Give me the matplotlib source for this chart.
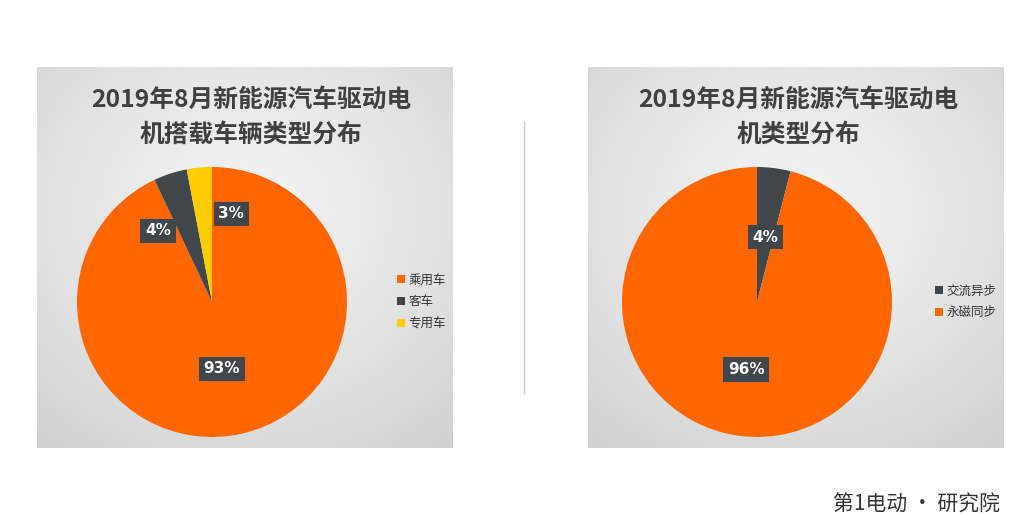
import numpy as np
import matplotlib
matplotlib.use('Agg')
import matplotlib.pyplot as plt

plt.rcParams['font.family'] = ['Noto Sans CJK SC', 'DejaVu Sans']

# data
left_title = '2019年8月新能源汽车驱动电\n机搭载车辆类型分布'
left_labels = ['乘用车', '客车', '专用车']
left_values = [93, 4, 3]

right_title = '2019年8月新能源汽车驱动电\n机类型分布'
right_labels = ['交流异步', '永磁同步']
right_values = [4, 96]

ORANGE = '#FF6600'
DARK = '#3F474D'
YELLOW = '#FFCC00'

W, H = 1024, 516


def fx(x):
    return x / W


def fy(y):
    return 1 - y / H


def panel(fig, x0, y0, x1, y1):
    ax = fig.add_axes([fx(x0), fy(y1), fx(x1 - x0), (y1 - y0) / H])
    yy, xx = np.mgrid[0:1:200j, 0:1:200j]
    # light centre slightly above middle, darker towards the edges
    r = np.sqrt((xx - 0.5) ** 2 + (yy - 0.62) ** 2) / 0.8
    g = 0.955 - 0.14 * np.clip(r, 0, 1) ** 1.3
    img = np.dstack([g, g, g])
    ax.imshow(img, extent=[0, 1, 0, 1], origin='lower', aspect='auto',
              interpolation='bicubic')
    ax.set_xlim(0, 1)
    ax.set_ylim(0, 1)
    ax.axis('off')
    return ax


def draw_pie(fig, cx, cy, rad, values, colors, label_pos):
    ax = fig.add_axes([fx(cx - rad), fy(cy + rad), fx(2 * rad), 2 * rad / H])
    wedges, _ = ax.pie(values, colors=colors, startangle=90, counterclock=False,
                       radius=1, wedgeprops=dict(linewidth=0))
    for v, (px, py) in zip(values, label_pos):
        ax.text(px, py, '%d%%' % v, ha='center', va='center', color='white',
                fontsize=11, fontweight='bold', family=['DejaVu Sans'],
                bbox=dict(boxstyle='square,pad=0.3', fc=DARK, ec='none'))
    ax.set_xlim(-1, 1)
    ax.set_ylim(-1, 1)
    ax.axis('off')
    return wedges


fig = plt.figure(figsize=(10.24, 5.16), dpi=100)
fig.patch.set_facecolor('white')

# left panel
pl = panel(fig, 37, 67, 453, 448)
fig.text(fx(251), fy(117), left_title, ha='center', va='center', fontsize=17.8,
         fontweight='bold', color='#404040', linespacing=1.55)
w1 = draw_pie(fig, 212, 302, 135, left_values, [ORANGE, DARK, YELLOW],
              [(0.074, -0.496), (-0.40, 0.526), (0.141, 0.652)])
fig.legend(w1, left_labels, loc='center left', bbox_to_anchor=(fx(386), fy(302)),
           frameon=False, fontsize=9, handlelength=0.6, handleheight=0.6,
           handletextpad=0.3, labelspacing=0.7, labelcolor='#333333')

# right panel
pr = panel(fig, 588, 67, 1004, 448)
fig.text(fx(798), fy(117), right_title, ha='center', va='center', fontsize=17.8,
         fontweight='bold', color='#404040', linespacing=1.55)
w2 = draw_pie(fig, 757, 302, 135, right_values, [DARK, ORANGE],
              [(0.06, 0.48), (-0.08, -0.50)])
fig.legend(w2, right_labels, loc='center left', bbox_to_anchor=(fx(924), fy(302)),
           frameon=False, fontsize=9, handlelength=0.6, handleheight=0.6,
           handletextpad=0.3, labelspacing=0.7, labelcolor='#333333')

# divider
fig.add_artist(plt.Line2D([fx(524), fx(524)], [fy(122), fy(393)],
                          color='#D0D0D0', linewidth=1))

# logo text
fig.text(fx(1000), fy(505), '第1电动 · 研究院', ha='right', va='center',
         fontsize=15, color='#333333')

fig.savefig('out.png', dpi=100)
